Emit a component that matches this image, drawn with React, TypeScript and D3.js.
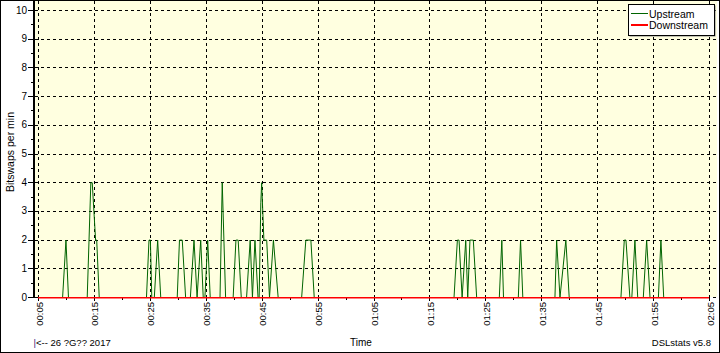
import React from "react";
import * as d3 from "d3";

// ---- data ----
const upTimes = [
  5, 9.4, 10.0, 10.45, 13.8, 14.45, 14.7, 15.3, 15.5, 15.95,
  24.4, 24.85, 25.1, 25.35, 25.8, 26.4, 26.95,
  29.9, 30.3, 30.8, 31.4, 32.25, 32.9, 33.45, 34.1, 34.55, 34.85, 35.35, 35.8,
  37.55, 37.95, 38.55, 39.9, 40.4, 40.8, 41.35,
  42.3, 42.95, 43.35, 43.8, 44.35, 44.55, 44.85, 45.0, 45.4, 45.9, 46.4, 47.1, 47.95,
  52.15, 52.9, 53.8, 54.4,
  79.4, 80.0, 80.3, 80.85, 81.5, 81.85, 82.25, 82.85, 83.45,
  87.5, 87.95, 88.25, 90.9, 91.3, 91.7,
  97.45, 97.75, 98.35, 99.4, 100.0,
  109.25, 109.85, 110.15, 110.85, 111.2, 111.75, 112.25,
  113.25, 113.85, 114.45, 115.95, 116.4, 116.9, 125,
];
const upValues = [
  0, 0, 2, 0, 0, 4, 4, 2, 2, 0,
  0, 2, 2, 0, 0, 2, 0,
  0, 2, 2, 0, 0, 2, 0, 2, 0, 0, 2, 0,
  0, 4, 0, 0, 2, 2, 0,
  0, 2, 0, 2, 0, 0, 3.3, 4, 2, 2, 0, 2, 0,
  0, 2, 2, 0,
  0, 2, 2, 0, 2, 0, 2, 2, 0,
  0, 2, 0, 0, 2, 0,
  0, 2, 0, 2, 0,
  0, 2, 2, 0, 0, 2, 0,
  0, 2, 0, 0, 2, 0, 0,
];
const downTimes = [5, 125];
const downValues = [0, 0];

const yTicks = [0, 1, 2, 3, 4, 5, 6, 7, 8, 9, 10];
const xTickMinutes = [5, 15, 25, 35, 45, 55, 65, 75, 85, 95, 105, 115, 125];
const seriesNames = ["Upstream", "Downstream"];
const seriesColors = ["#006400", "#ff0000"];
const yTitle = "Bitswaps per min";
const xTitle = "Time";
const dateNote = "<-- 26 ?G?? 2017";
const credit = "DSLstats v5.8";

const FONT = "'Liberation Sans', Arial, sans-serif";

function fmt(m: number) {
  const h = Math.floor(m / 60);
  const mm = m % 60;
  return `${String(h).padStart(2, "0")}:${String(mm).padStart(2, "0")}`;
}

export default function App() {
  const W = 720, H = 353;
  const x = d3.scaleLinear().domain([5, 125]).range([38, 709]);
  const y = d3.scaleLinear().domain([0, 10]).range([297, 10]);
  const line = d3
    .line<[number, number]>()
    .x((d) => x(d[0]))
    .y((d) => y(d[1]));
  const up = upTimes.map((t, i) => [t, upValues[i]] as [number, number]);
  const down = downTimes.map((t, i) => [t, downValues[i]] as [number, number]);
  const px = (v: number) => Math.round(v) + 0.5;

  const minorX = d3.range(10, 125, 10);
  const minorY = d3.range(0.5, 10, 1);

  return (
    <svg
      width={W}
      height={H}
      style={{ position: "absolute", left: 0, top: 0, background: "#fff" }}
      fontFamily={FONT}
    >
      <rect x={0} y={0} width={W} height={H} fill="#fff" />
      <rect x={35} y={1} width={682} height={296} fill="#ffffe0" />
      {/* horizontal grid */}
      {yTicks.map((v) => (
        <line
          key={"gy" + v}
          x1={35}
          x2={717}
          y1={px(y(v))}
          y2={px(y(v))}
          stroke="#000"
          strokeDasharray="3,3"
        />
      ))}
      {/* vertical grid */}
      {xTickMinutes.map((m) => (
        <line
          key={"gx" + m}
          x1={px(x(m))}
          x2={px(x(m))}
          y1={1}
          y2={297}
          stroke="#000"
          strokeDasharray="3,3"
        />
      ))}
      {/* upstream series */}
      <g transform="translate(0,0.5)">
        <path d={line(up) || ""} fill="none" stroke={seriesColors[0]} strokeWidth={1} />
      </g>
      {/* y axis */}
      <line x1={34} x2={34} y1={1} y2={298} stroke="#000" strokeWidth={2} />
      {yTicks.map((v) => (
        <g key={"yt" + v}>
          <line x1={28} x2={34} y1={px(y(v))} y2={px(y(v))} stroke="#000" />
          <text
            x={27}
            y={y(v)}
            textAnchor="end"
            dominantBaseline="central"
            fontSize={10}
            fill="#000"
          >
            {v}
          </text>
        </g>
      ))}
      {minorY.map((v) => (
        <line key={"my" + v} x1={31} x2={34} y1={px(y(v))} y2={px(y(v))} stroke="#000" />
      ))}
      {/* x ticks */}
      {xTickMinutes.map((m) => (
        <g key={"xt" + m}>
          <line x1={px(x(m))} x2={px(x(m))} y1={297} y2={301} stroke="#000" />
          <text
            transform={`translate(${x(m) + 4.5},302) rotate(-90)`}
            textAnchor="end"
            fontSize={9.5}
            fill="#000"
          >
            {fmt(m)}
          </text>
        </g>
      ))}
      {minorX.map((m) => (
        <line key={"mx" + m} x1={px(x(m))} x2={px(x(m))} y1={297} y2={300} stroke="#000" />
      ))}
      {/* downstream series (drawn on top of the zero line) */}
      <g transform="translate(0,0.8)">
        <path d={line(down) || ""} fill="none" stroke={seriesColors[1]} strokeWidth={1.6} />
      </g>
      {/* titles */}
      <text
        transform={`translate(13.5,152) rotate(-90)`}
        textAnchor="middle"
        fontSize={10.5}
        fill="#000"
      >
        {yTitle}
      </text>
      <text x={361} y={342} textAnchor="middle" dominantBaseline="central" fontSize={10} fill="#000">
        {xTitle}
      </text>
      <text x={33.5} y={342} dominantBaseline="central" fontSize={9.5} fill="#000">
        <tspan fill="#3a1c80">|</tspan>
        {dateNote}
      </text>
      <text x={711} y={342} textAnchor="end" dominantBaseline="central" fontSize={9.5} fill="#000">
        {credit}
      </text>
      {/* legend */}
      <rect x={629.5} y={5.5} width={86} height={31} fill="#888" />
      <rect x={628.5} y={4.5} width={86} height={31} fill="#fff" stroke="#000" />
      {seriesNames.map((n, i) => (
        <g key={n}>
          <line
            x1={631}
            x2={648}
            y1={13.5 + i * 11.5}
            y2={13.5 + i * 11.5}
            stroke={seriesColors[i]}
            strokeWidth={1.2}
            shapeRendering="crispEdges"
          />
          <text x={649} y={13.5 + i * 11.5} dominantBaseline="central" fontSize={10.5} fill="#000">
            {n}
          </text>
        </g>
      ))}
      {/* outer border */}
      <rect x={0.5} y={0.5} width={W - 1} height={H - 1} fill="none" stroke="#000" />
    </svg>
  );
}
